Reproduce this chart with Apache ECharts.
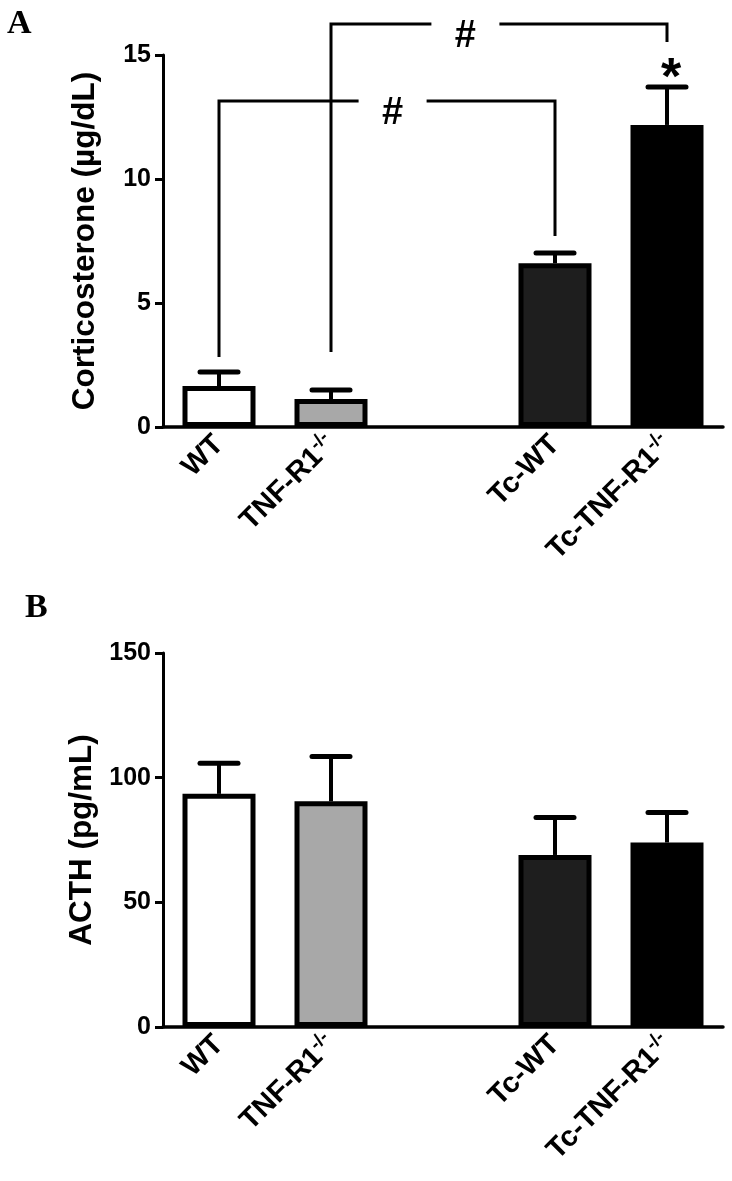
<!DOCTYPE html>
<html>
<head>
<meta charset="utf-8">
<script src="https://cdn.jsdelivr.net/npm/echarts@6/dist/echarts.min.js"></script>
<style>
  html, body { margin: 0; padding: 0; background: #fff; }
  #chart { width: 732px; height: 1181px; }
</style>
</head>
<body>
<div id="chart"></div>
<script>
// groups, the empty one is the gap between the two pairs
const categories = ['WT', 'TNF-R1-/-', '', 'Tc-WT', 'Tc-TNF-R1-/-']
const barColors = ['#ffffff', '#a8a8a8', '#ffffff', '#1e1e1e', '#000000']

// panel A - corticosterone (ug/dL), mean and SEM
const cortMean = [1.65, 1.13, null, 6.6, 12.18]
const cortSem = [0.57, 0.36, null, 0.42, 1.53]
const cortTicks = [0, 5, 10, 15]

// panel B - ACTH (pg/mL), mean and SEM
const acthMean = [93.5, 90.5, null, 69, 74]
const acthSem = [12.3, 18, null, 15, 12]
const acthTicks = [0, 50, 100, 150]

// "#" brackets on panel A: [from group, to group, bracket level, drop end at from, drop end at to, # position]
const hashBrackets = [
  [0, 3, 13.15, 2.82, 7.7, 1.55],
  [1, 4, 16.25, 3.02, 15.52, 2.2],
]
// "*" marks on panel A: [group, level]
const stars = [[4, 14.48]]

const FONT = 'Liberation Sans, Arial, sans-serif'

const chart = echarts.init(document.getElementById('chart'))

function catLabel(name) {
  if (name.endsWith('-/-')) {
    return '{b|' + name.slice(0, -3) + '}{sup|-/-}'
  }
  return '{b|' + name + '}'
}

function xAxisFor(gridIndex) {
  return {
    gridIndex: gridIndex,
    type: 'category',
    data: categories,
    axisLine: { lineStyle: { color: '#000', width: 3.5 } },
    axisTick: {
      alignWithLabel: true,
      length: 9,
      interval: (idx, val) => val !== '',
      lineStyle: { color: '#000', width: 3 },
    },
    axisLabel: {
      interval: 0,
      rotate: 45,
      margin: 13,
      formatter: catLabel,
      rich: {
        b: { fontFamily: FONT, fontWeight: 'bold', fontSize: 29, color: '#000', lineHeight: 34 },
        sup: { fontFamily: FONT, fontWeight: 'bold', fontSize: 19, color: '#000', verticalAlign: 'top', lineHeight: 34 },
      },
    },
  }
}

function yAxisFor(gridIndex, ticks, name, gap) {
  return {
    gridIndex: gridIndex,
    type: 'value',
    min: ticks[0],
    max: ticks[ticks.length - 1],
    interval: ticks[1] - ticks[0],
    name: name,
    nameLocation: 'middle',
    nameRotate: 90,
    nameGap: gap,
    nameTextStyle: { fontFamily: FONT, fontWeight: 'bold', fontSize: 31.5, color: '#000' },
    axisLine: { show: true, lineStyle: { color: '#000', width: 3 } },
    axisTick: { show: true, length: 8, lineStyle: { color: '#000', width: 3 } },
    axisLabel: { margin: 12, fontFamily: FONT, fontWeight: 'bold', fontSize: 25, color: '#000' },
    splitLine: { show: false },
  }
}

function barSeries(idx, values) {
  return {
    type: 'bar',
    xAxisIndex: idx,
    yAxisIndex: idx,
    barWidth: 73,
    data: values.map((v, i) => (v == null ? '-' : { value: v, itemStyle: { color: barColors[i] } })),
    itemStyle: { borderColor: '#000', borderWidth: 5 },
    silent: true,
    z: 2,
  }
}

function errorSeries(idx, means, sems) {
  const data = []
  means.forEach((m, i) => {
    if (m != null) data.push([i, m, sems[i]])
  })
  return {
    type: 'custom',
    xAxisIndex: idx,
    yAxisIndex: idx,
    encode: { x: 0, y: 1 },
    data: data,
    z: 3,
    silent: true,
    renderItem(params, api) {
      const x = api.value(0)
      const m = api.value(1)
      const s = api.value(2)
      const p0 = api.coord([x, m])
      const p1 = api.coord([x, m + s])
      return {
        type: 'group',
        children: [
          { type: 'line', shape: { x1: p0[0], y1: p0[1], x2: p1[0], y2: p1[1] }, style: { stroke: '#000', lineWidth: 4 } },
          { type: 'line', shape: { x1: p1[0] - 19, y1: p1[1], x2: p1[0] + 19, y2: p1[1] }, style: { stroke: '#000', lineWidth: 5, lineCap: 'round' } },
        ],
      }
    },
  }
}

const bracketSeries = {
  type: 'custom',
  xAxisIndex: 0,
  yAxisIndex: 0,
  encode: { x: 0, y: 2 },
  data: hashBrackets,
  clip: false,
  silent: true,
  z: 4,
  renderItem(params, api) {
    const a = api.value(0), b = api.value(1), lvl = api.value(2)
    const aEnd = api.value(3), bEnd = api.value(4), pos = api.value(5)
    const pa = api.coord([a, lvl])
    const pb = api.coord([b, lvl])
    const pae = api.coord([a, aEnd])
    const pbe = api.coord([b, bEnd])
    const band = api.size([1, 0])[0]
    const px = api.coord([0, lvl])[0] + pos * band
    const gap = 34
    const st = { stroke: '#000', lineWidth: 3 }
    return {
      type: 'group',
      children: [
        { type: 'polyline', shape: { points: [pae, pa, [px - gap, pa[1]]] }, style: Object.assign({ fill: null }, st) },
        { type: 'polyline', shape: { points: [[px + gap, pb[1]], pb, pbe] }, style: Object.assign({ fill: null }, st) },
        { type: 'text', style: { text: '#', x: px, y: pa[1] - 6, align: 'center', verticalAlign: 'top', font: 'bold 38px ' + FONT, fill: '#000' } },
      ],
    }
  },
}

const starSeries = {
  type: 'custom',
  xAxisIndex: 0,
  yAxisIndex: 0,
  encode: { x: 0, y: 1 },
  data: stars,
  clip: false,
  silent: true,
  z: 4,
  renderItem(params, api) {
    const p = api.coord([api.value(0), api.value(1)])
    return { type: 'text', style: { text: '*', x: p[0] + 4, y: p[1] + 12, align: 'center', verticalAlign: 'middle', font: 'bold 52px ' + FONT, fill: '#000' } }
  },
}

chart.setOption({
  animation: false,
  backgroundColor: '#fff',
  grid: [
    { left: 163, top: 55, width: 560, height: 372 },
    { left: 163, top: 653, width: 560, height: 374 },
  ],
  xAxis: [xAxisFor(0), xAxisFor(1)],
  yAxis: [
    yAxisFor(0, cortTicks, 'Corticosterone (\u00b5g/dL)', 62),
    yAxisFor(1, acthTicks, 'ACTH (pg/mL)', 62),
  ],
  graphic: [
    { type: 'text', left: 7, top: 7, style: { text: 'A', font: 'bold 34px Liberation Serif, Times New Roman, serif', fill: '#000' } },
    { type: 'text', left: 25, top: 591, style: { text: 'B', font: 'bold 34px Liberation Serif, Times New Roman, serif', fill: '#000' } },
  ],
  series: [
    barSeries(0, cortMean),
    errorSeries(0, cortMean, cortSem),
    bracketSeries,
    starSeries,
    barSeries(1, acthMean),
    errorSeries(1, acthMean, acthSem),
  ],
})
</script>
</body>
</html>
